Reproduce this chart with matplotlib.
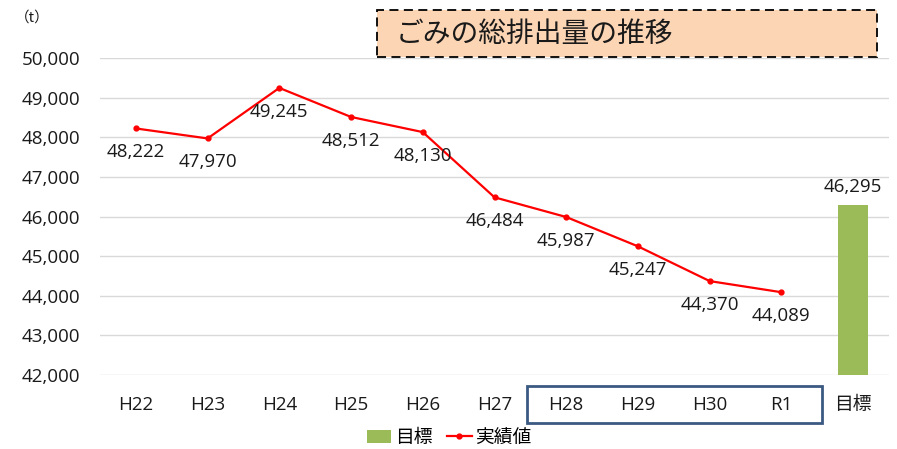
import matplotlib.pyplot as plt
from matplotlib.patches import Rectangle

plt.rcParams['font.family'] = ['Open Sans', 'Noto Sans CJK JP', 'DejaVu Sans']

# data
categories = ['H22', 'H23', 'H24', 'H25', 'H26', 'H27', 'H28', 'H29', 'H30', 'R1', '目標']
actual = [48222, 47970, 49245, 48512, 48130, 46484, 45987, 45247, 44370, 44089]
target = 46295
yticks = [42000, 43000, 44000, 45000, 46000, 47000, 48000, 49000, 50000]

RED = '#FF0000'
GREEN = '#9BBB59'
BOXBLUE = '#3B5A82'
TXT = '#1a1a1a'
FS = 13.5

fig = plt.figure(figsize=(8.97, 4.49), dpi=100)
ax = fig.add_axes([100 / 897, 1 - 375 / 449, 789 / 897, 317 / 449])

x = list(range(len(categories)))
ax.bar([x[-1]], [target], width=0.41, color=GREEN, label='目標', zorder=2)
ax.plot(x[:len(actual)], actual, color=RED, linewidth=1.6, marker='o', markersize=3.5,
        label='実績値', zorder=3)

for xi, v in zip(x, actual):
    ax.annotate(f'{v:,}', (xi, v), xytext=(0, -17), textcoords='offset points',
                ha='center', va='center', fontsize=FS, color=TXT)
ax.annotate(f'{target:,}', (x[-1], target), xytext=(0, 13), textcoords='offset points',
            ha='center', va='center', fontsize=FS, color=TXT)

ax.set_xlim(-0.5, len(categories) - 0.5)
ax.set_ylim(42000, 50000)
ax.set_yticks(yticks)
ax.set_yticklabels([f'{t:,}' for t in yticks], fontsize=FS, color=TXT)
ax.set_xticks(x)
ax.set_xticklabels(categories, fontsize=FS, color=TXT)
ax.tick_params(length=0)
ax.tick_params(axis='x', pad=15)
ax.tick_params(axis='y', pad=14)
ax.grid(axis='y', color='#D9D9D9', linewidth=1)
ax.set_axisbelow(True)
for s in ax.spines.values():
    s.set_visible(False)

# unit label
fig.text(32 / 897, 1 - 18 / 449, '（t）', fontsize=10.5, ha='center', va='center',
         color=TXT, family='Noto Sans CJK JP')

# title box
fig.patches.append(Rectangle((377 / 897, 1 - 57 / 449), 500 / 897, 47 / 449,
                             transform=fig.transFigure, facecolor='#FCD5B4',
                             edgecolor='black', linestyle=(0, (5, 3)), linewidth=1.3))
fig.text(396 / 897, 1 - 35 / 449, 'ごみの総排出量の推移', fontsize=20, ha='left', va='center',
         color=TXT)

# highlight box around H28-R1
fig.patches.append(Rectangle((527 / 897, 1 - 423 / 449), 295 / 897, 37 / 449,
                             transform=fig.transFigure, facecolor='none',
                             edgecolor=BOXBLUE, linewidth=2))

handles, labels = ax.get_legend_handles_labels()
order = [labels.index('目標'), labels.index('実績値')]
fig.legend([handles[i] for i in order], [labels[i] for i in order],
           loc='center', bbox_to_anchor=(449 / 897, 1 - 438 / 449), ncol=2, frameon=False,
           fontsize=FS, handlelength=1.3, handletextpad=0.2, columnspacing=0.8,
           borderaxespad=0)

fig.savefig('out.png', dpi=100)
